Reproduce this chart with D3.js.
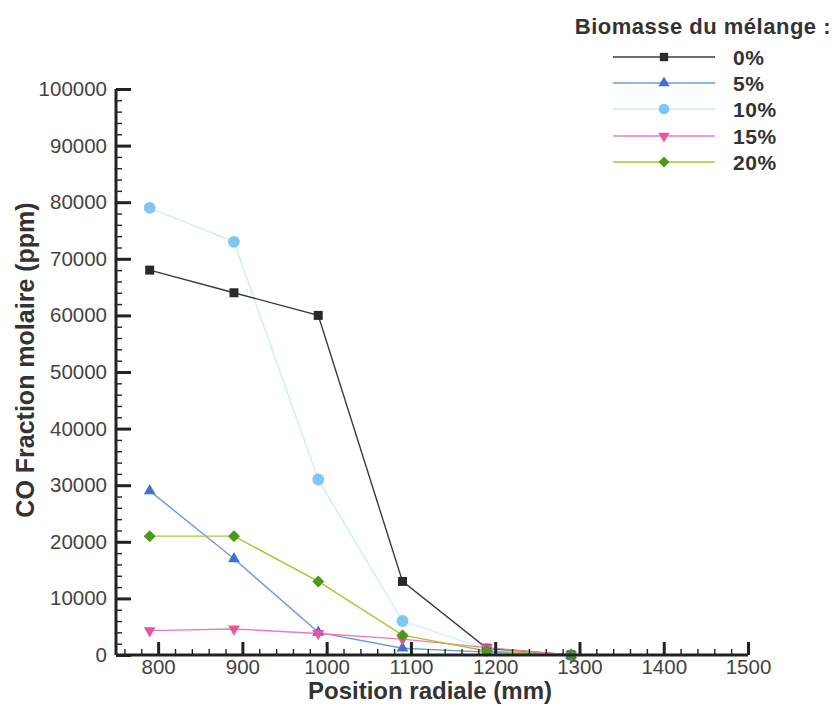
<!DOCTYPE html>
<html><head><meta charset="utf-8">
<script src="https://cdn.jsdelivr.net/npm/d3@7"></script>
<style>body{margin:0;background:#fff;} svg{display:block;}</style>
</head><body>
<svg id="c" width="834" height="706"></svg>
<script>
const positions = [790, 890, 990, 1090, 1190, 1290];
const seriesNames = ["0%", "5%", "10%", "15%", "20%"];
const s0  = [68000, 64000, 60000, 13000, 1200, 0];
const s5  = [29000, 17000, 4000, 1200, 500, 0];
const s10 = [79000, 73000, 31000, 6000, 1000, 0];
const s15 = [4300, 4600, 3800, 2800, 1300, 0];
const s20 = [21000, 21000, 13000, 3500, 700, 0];
const xTicks = [800, 900, 1000, 1100, 1200, 1300, 1400, 1500];
const yTicks = [0,10000,20000,30000,40000,50000,60000,70000,80000,90000,100000];

const styles = [
  {line:"#3a3a3a", fill:"#2a2a2a", sym:d3.symbolSquare, size:81, rot:0},
  {line:"#6a9be6", fill:"#3d70d8", sym:d3.symbolTriangle, size:60, rot:0},
  {line:"#c9edf9", fill:"#7fc6f5", sym:d3.symbolCircle, size:110, rot:0},
  {line:"#f07ab8", fill:"#ea559e", sym:d3.symbolTriangle, size:60, rot:180},
  {line:"#a9c72a", fill:"#4b9a1c", sym:d3.symbolSquare, size:72, rot:45}
];
const data = [s0, s5, s10, s15, s20];

const svg = d3.select("#c");
const x = d3.scaleLinear().domain([750, 1500]).range([116, 748]);
const y = d3.scaleLinear().domain([0, 100000]).range([655, 89]);
const font = "'Liberation Sans', Arial, Helvetica, sans-serif";

const order = [2, 0, 1, 3, 4];
const line = d3.line().x((d,i)=>x(positions[i])).y(d=>y(d));
order.forEach(k=>{
  svg.append("path").datum(data[k]).attr("d", line)
    .attr("fill","none").attr("stroke", styles[k].line).attr("stroke-width", 1.4);
});
order.forEach(k=>{
  const st = styles[k];
  svg.append("g").selectAll("path").data(data[k]).join("path")
    .attr("d", d3.symbol().type(st.sym).size(st.size))
    .attr("transform",(d,i)=>`translate(${x(positions[i])},${y(d)}) rotate(${st.rot})`)
    .attr("fill", st.fill);
});

const axisColor = "#222";
const minorX = d3.range(760, 1501, 20).filter(v=>v%100!==0);
const minorY = d3.range(2000, 100000, 2000).filter(v=>v%10000!==0);

const gx = svg.append("g").attr("transform","translate(0,655)");
gx.call(d3.axisBottom(x).tickValues(minorX).tickSize(-6).tickFormat(""))
  .call(g=>g.select(".domain").remove())
  .call(g=>g.selectAll("line").attr("stroke",axisColor).attr("stroke-width",1.4));
const gx2 = svg.append("g").attr("transform","translate(0,655)");
gx2.call(d3.axisBottom(x).tickValues(xTicks).tickSize(-13).tickFormat(d3.format("d")))
  .call(g=>g.select(".domain").attr("d", `M${x(750)},0H${x(1500)}`).attr("stroke",axisColor).attr("stroke-width",3))
  .call(g=>g.selectAll("line").attr("stroke",axisColor).attr("stroke-width",3))
  .call(g=>g.selectAll("text").attr("font-family",font).attr("font-size",20.5).attr("fill","#444").attr("y",4));

const gy = svg.append("g").attr("transform","translate(116,0)");
gy.call(d3.axisLeft(y).tickValues(minorY).tickSize(-6).tickFormat(""))
  .call(g=>g.select(".domain").remove())
  .call(g=>g.selectAll("line").attr("stroke",axisColor).attr("stroke-width",1.4));
const gy2 = svg.append("g").attr("transform","translate(116,0)");
gy2.call(d3.axisLeft(y).tickValues(yTicks).tickSize(-15).tickFormat(d3.format("d")))
  .call(g=>g.select(".domain").attr("d", `M0,${y(0)}V${y(100000)}`).attr("stroke",axisColor).attr("stroke-width",3))
  .call(g=>g.selectAll("line").attr("stroke",axisColor).attr("stroke-width",3))
  .call(g=>g.selectAll("text").attr("font-family",font).attr("font-size",20.5).attr("fill","#444").attr("x",-9));

svg.append("text").attr("x", 430).attr("y", 699).attr("text-anchor","middle")
  .attr("font-family",font).attr("font-weight","bold").attr("font-size",24).attr("fill","#333")
  .text("Position radiale (mm)");
svg.append("text").attr("transform","translate(34,360) rotate(-90)").attr("text-anchor","middle")
  .attr("font-family",font).attr("font-weight","bold").attr("font-size",25).attr("fill","#333")
  .text("CO Fraction molaire (ppm)");

svg.append("text").attr("x", 831).attr("y", 34).attr("text-anchor","end")
  .attr("font-family",font).attr("font-weight","bold").attr("font-size",22).attr("letter-spacing",0.5).attr("fill","#333")
  .text("Biomasse du mélange :");
const ly = [57, 83, 109, 136, 162];
const lsize = [70, 55, 90, 55, 60];
seriesNames.forEach((name,k)=>{
  const st = styles[k];
  const g = svg.append("g").attr("transform",`translate(0,${ly[k]})`);
  g.append("line").attr("x1",613).attr("x2",715).attr("y1",0).attr("y2",0)
    .attr("stroke",st.line).attr("stroke-width",1.4);
  g.append("path").attr("d", d3.symbol().type(st.sym).size(lsize[k]))
    .attr("transform",`translate(664,0) rotate(${st.rot})`).attr("fill",st.fill);
  g.append("text").attr("x",733).attr("y",8).attr("font-family",font).attr("font-weight","bold")
    .attr("font-size",21).attr("letter-spacing",0.6).attr("fill","#333").text(name);
});
</script>
</body></html>
